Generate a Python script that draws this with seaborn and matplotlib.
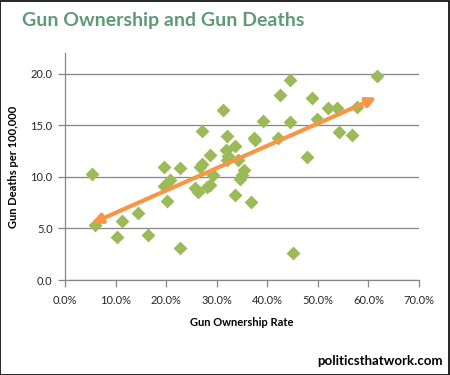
"""Gun ownership vs gun deaths scatter with trendline"""
import seaborn as sns
import matplotlib.pyplot as plt
import matplotlib.ticker as mticker
import pandas as pd
import numpy as np

GREEN, ORANGE, TITLE = '#9bbb59', '#f79646', '#5f9a78'
GRID, INK = '#868686', '#262626'

# gun ownership rate (%) and gun deaths per 100,000
ownership = [5.3, 5.9, 10.2, 11.2, 14.4, 16.5, 22.7, 19.6, 22.7, 19.6,
             20.8, 20.1, 26.6, 25.7, 26.4, 31.2, 39.2, 27.0, 32.1, 37.4,
             33.6, 31.8, 32.3, 28.7, 34.3, 35.3, 34.6, 29.3, 28.0, 28.7,
             33.6, 36.8, 45.0, 61.6, 44.5, 42.6, 48.8, 52.1, 53.7, 57.8,
             44.5, 49.8, 54.2, 56.8, 42.2, 47.8, 32.0, 35.0, 27.0, 37.6]
deaths = [10.3, 5.3, 4.15, 5.76, 6.47, 4.37, 3.14, 11.0, 10.9, 9.13,
          9.7, 7.67, 11.0, 8.9, 8.57, 16.5, 15.4, 14.4, 14.0, 13.8,
          13.0, 12.6, 12.0, 12.1, 11.6, 10.7, 9.8, 10.2, 9.0, 9.2,
          8.2, 7.6, 2.65, 19.8, 19.35, 17.9, 17.6, 16.7, 16.7, 16.8,
          15.3, 15.6, 14.3, 14.1, 13.75, 11.9, 11.65, 10.2, 11.2, 13.6]
df = pd.DataFrame({'Ownership': ownership, 'Deaths': deaths})

sns.set_theme(style='white', rc={'axes.unicode_minus': False})
plt.rcParams['font.family'] = ['Lato', 'DejaVu Sans']

fig = plt.figure(figsize=(4.5, 3.75), dpi=100, facecolor='white')
fig.patches.append(plt.Rectangle((0.001, 0.001), 0.997, 0.997, transform=fig.transFigure,
                                 fill=False, edgecolor='black', linewidth=1.2))

ax = fig.add_axes([0.1444, 0.2533, 0.7867, 0.6053])
sns.scatterplot(data=df, x='Ownership', y='Deaths', ax=ax, marker='D',
                color=GREEN, s=50, linewidth=0, zorder=3)

# linear trendline with arrowheads at both ends
slope, icpt = np.polyfit(df['Ownership'], df['Deaths'], 1)
x0, x1 = df['Ownership'].min(), df['Ownership'].max()
ax.annotate('', xy=(x1, slope * x1 + icpt), xytext=(x0, slope * x0 + icpt),
            arrowprops=dict(arrowstyle='<|-|>', color=ORANGE, lw=3,
                            mutation_scale=14, shrinkA=0, shrinkB=0), zorder=4)

ax.set_xlim(0, 70)
ax.set_ylim(0, 22)
ax.xaxis.set_major_locator(mticker.MultipleLocator(10))
ax.yaxis.set_major_locator(mticker.MultipleLocator(5))
ax.xaxis.set_major_formatter(mticker.PercentFormatter(xmax=100, decimals=1))
ax.yaxis.set_major_formatter(mticker.FormatStrFormatter('%.1f'))
ax.grid(axis='y', color=GRID, linewidth=0.9)
ax.grid(axis='x', visible=False)
for side in ['top', 'right']:
    ax.spines[side].set_visible(False)
for side in ['left', 'bottom']:
    ax.spines[side].set_color(GRID)
    ax.spines[side].set_linewidth(0.9)
ax.tick_params(axis='both', length=5, width=0.9, color=GRID, labelsize=8,
               labelcolor=INK, direction='out', bottom=True, left=True, pad=4)
ax.tick_params(axis='x', pad=6)

ax.set_xlabel('Gun Ownership Rate', fontsize=8, fontweight='bold', color='black', labelpad=8)
ax.set_ylabel('Gun Deaths per 100,000', fontsize=8, fontweight='bold', color='black', labelpad=8)

fig.text(0.049, 0.93, 'Gun Ownership and Gun Deaths', fontsize=14,
         fontweight='bold', color=TITLE, ha='left', va='baseline')
fig.text(0.984, 0.026, 'politicsthatwork.com', fontsize=9.5, fontweight='bold',
         color='black', ha='right', va='baseline')

plt.savefig('out.png', dpi=100, facecolor='white')
